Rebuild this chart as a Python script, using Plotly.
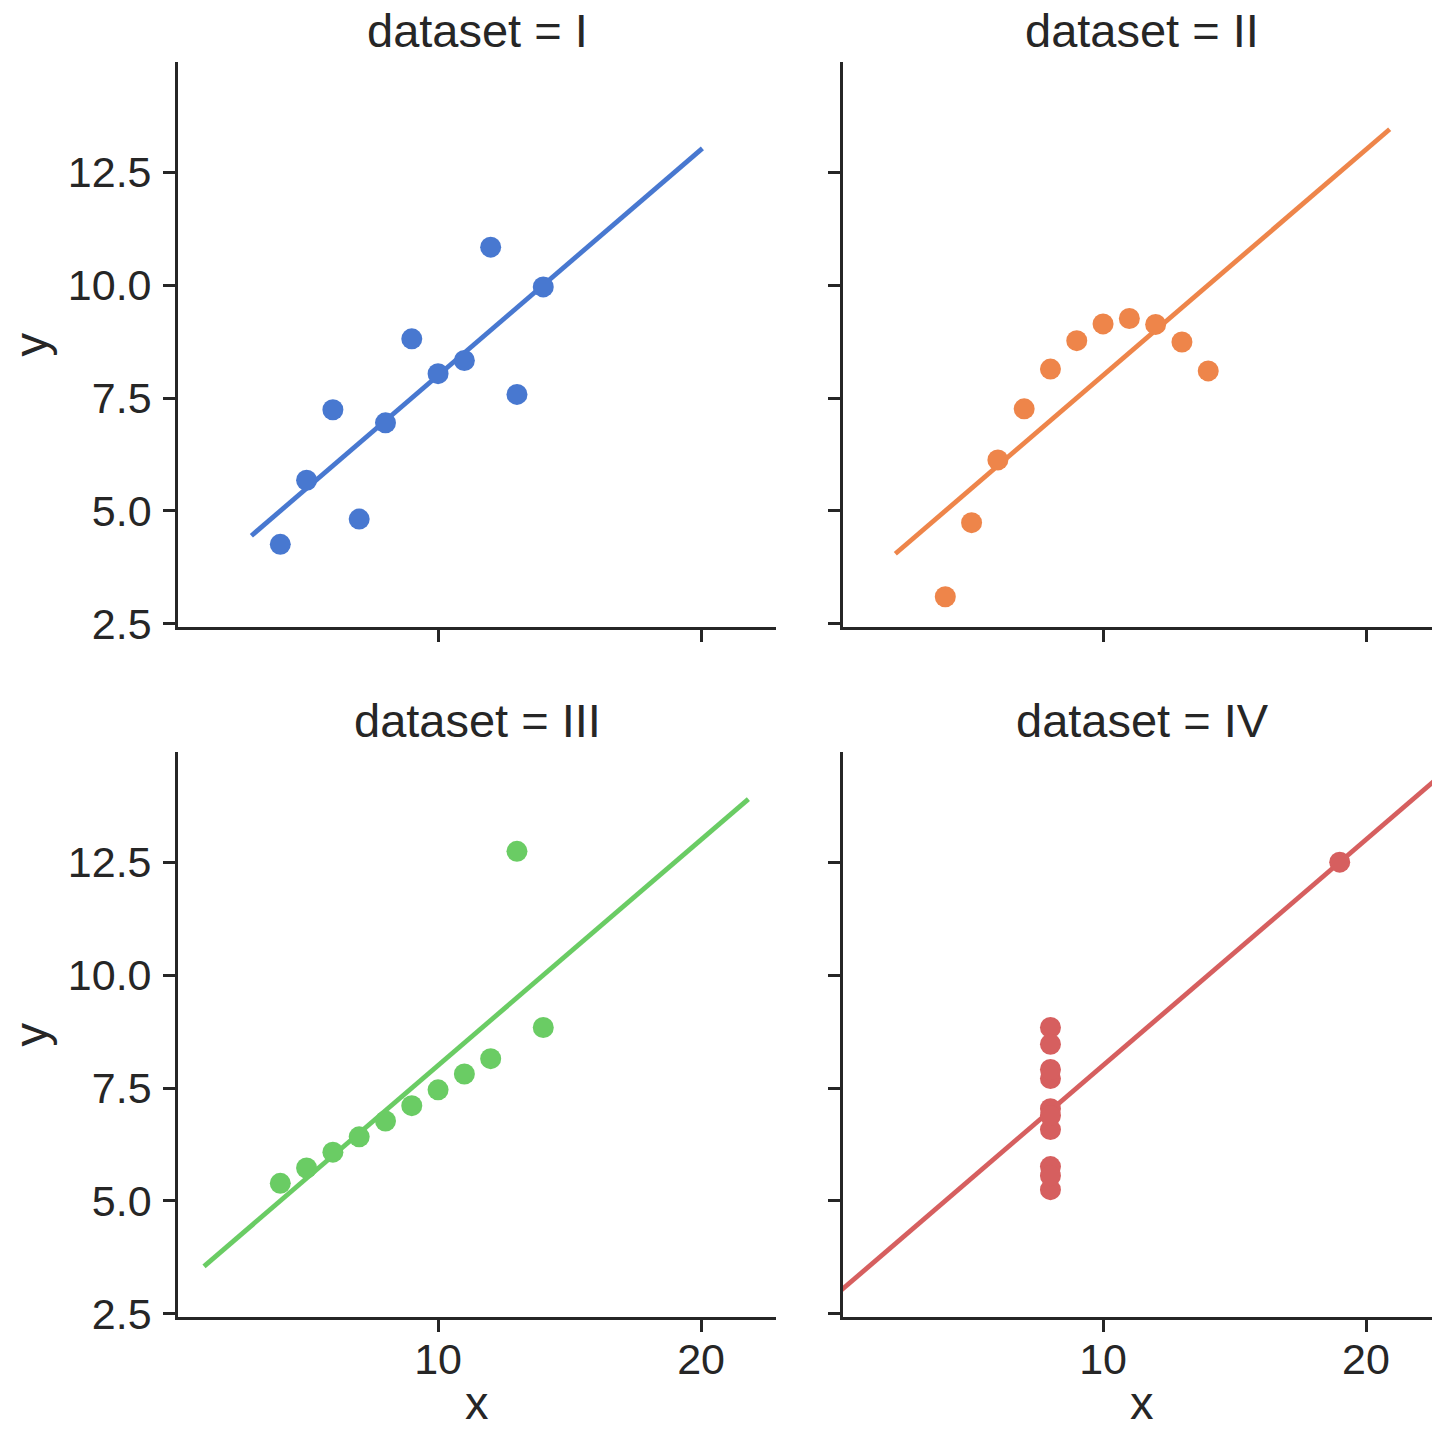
import numpy as np
import plotly.graph_objects as go

# ---- data (Anscombe's quartet) ----
datasets = ["I", "II", "III", "IV"]
x_I = [10, 8, 13, 9, 11, 14, 6, 4, 12, 7, 5]
y_I = [8.04, 6.95, 7.58, 8.81, 8.33, 9.96, 7.24, 4.26, 10.84, 4.82, 5.68]
x_II = [10, 8, 13, 9, 11, 14, 6, 4, 12, 7, 5]
y_II = [9.14, 8.14, 8.74, 8.77, 9.26, 8.10, 6.13, 3.10, 9.13, 7.26, 4.74]
x_III = [10, 8, 13, 9, 11, 14, 6, 4, 12, 7, 5]
y_III = [7.46, 6.77, 12.74, 7.11, 7.81, 8.84, 6.08, 5.39, 8.15, 6.42, 5.73]
x_IV = [8, 8, 8, 8, 8, 8, 8, 19, 8, 8, 8]
y_IV = [6.58, 5.76, 7.71, 8.84, 8.47, 7.04, 5.25, 12.50, 5.56, 7.91, 6.89]
# extent of each fitted regression line along x
line_x_start = [2.9, 2.1, 1.1, 0.0]
line_x_end = [20.05, 20.9, 21.8, 23.5]
y_ticks = [2.5, 5.0, 7.5, 10.0, 12.5]
x_ticks = [10, 20]

xs = [x_I, x_II, x_III, x_IV]
ys = [y_I, y_II, y_III, y_IV]
colors = ["#4878d0", "#ee854a", "#6acc64", "#d65f5f"]

W, H = 1432, 1431
FONT = "Liberation Sans, Arial, Helvetica, sans-serif"
TXT = "#262626"

# pixel layout of the four panels
col_px = [(178, 776), (843, 1432)]
row_px = [(62, 627), (752, 1317)]
x_ranges = [[0.11, 22.85], [0.11, 22.51]]
y_range = [2.43, 14.94]
title_centers = [477, 1142]

fig = go.Figure()
for i, name in enumerate(datasets):
    sfx = "" if i == 0 else str(i + 1)
    xa, ya = "x" + sfx, "y" + sfx
    x = np.array(xs[i], dtype=float)
    y = np.array(ys[i], dtype=float)
    slope, intercept = np.polyfit(x, y, 1)
    lx = np.array([line_x_start[i], line_x_end[i]])
    fig.add_trace(go.Scatter(x=lx, y=intercept + slope * lx, mode="lines",
                             line=dict(color=colors[i], width=4.8),
                             xaxis=xa, yaxis=ya, showlegend=False, hoverinfo="skip"))
    fig.add_trace(go.Scatter(x=x, y=y, mode="markers",
                             marker=dict(color=colors[i], size=21, line=dict(width=0)),
                             xaxis=xa, yaxis=ya, showlegend=False, name="dataset = " + name))

layout = dict(width=W, height=H, margin=dict(l=0, r=0, t=0, b=0),
              paper_bgcolor="white", plot_bgcolor="white",
              font=dict(family=FONT, color=TXT))
annotations = []
label_font = dict(size=47, color=TXT, family=FONT)
for i, name in enumerate(datasets):
    r, c = divmod(i, 2)
    sfx = "" if i == 0 else str(i + 1)
    x0, x1 = col_px[c]
    y0, y1 = row_px[r]
    xdom = [x0 / W, min(x1 / W, 1.0)]
    ydom = [(H - y1) / H, (H - y0) / H]
    common = dict(showgrid=False, zeroline=False, showline=True, linecolor=TXT,
                  linewidth=2.7, ticks="outside", ticklen=12, tickwidth=2.7,
                  tickcolor=TXT, tickfont=dict(size=43, color=TXT, family=FONT),
                  automargin=False)
    xaxis = dict(domain=xdom, range=x_ranges[c], anchor="y" + sfx,
                 tickvals=x_ticks, showticklabels=(r == 1), ticklabelstandoff=-9, **common)
    yaxis = dict(domain=ydom, range=y_range, anchor="x" + sfx,
                 tickvals=y_ticks, tickformat=".1f", showticklabels=(c == 0),
                 ticklabelstandoff=3, **common)
    layout["xaxis" + sfx] = xaxis
    layout["yaxis" + sfx] = yaxis
    annotations.append(dict(text="dataset = " + name, xref="paper", yref="paper",
                            x=title_centers[c] / W, y=(H - (y0 - 32)) / H,
                            xanchor="center", yanchor="middle",
                            showarrow=False, font=label_font))
    # axis labels
    if r == 1:
        annotations.append(dict(text="x", xref="paper", yref="paper",
                                x=title_centers[c] / W, y=0,
                                xanchor="center", yanchor="bottom",
                                showarrow=False, font=label_font))
    if c == 0:
        annotations.append(dict(text="y", xref="paper", yref="paper", textangle=-90,
                                x=30 / W, y=(H - (y0 + y1) / 2) / H,
                                xanchor="center", yanchor="middle",
                                showarrow=False, font=label_font))
layout["annotations"] = annotations
fig.update_layout(**layout)
fig.write_html("out.html")
